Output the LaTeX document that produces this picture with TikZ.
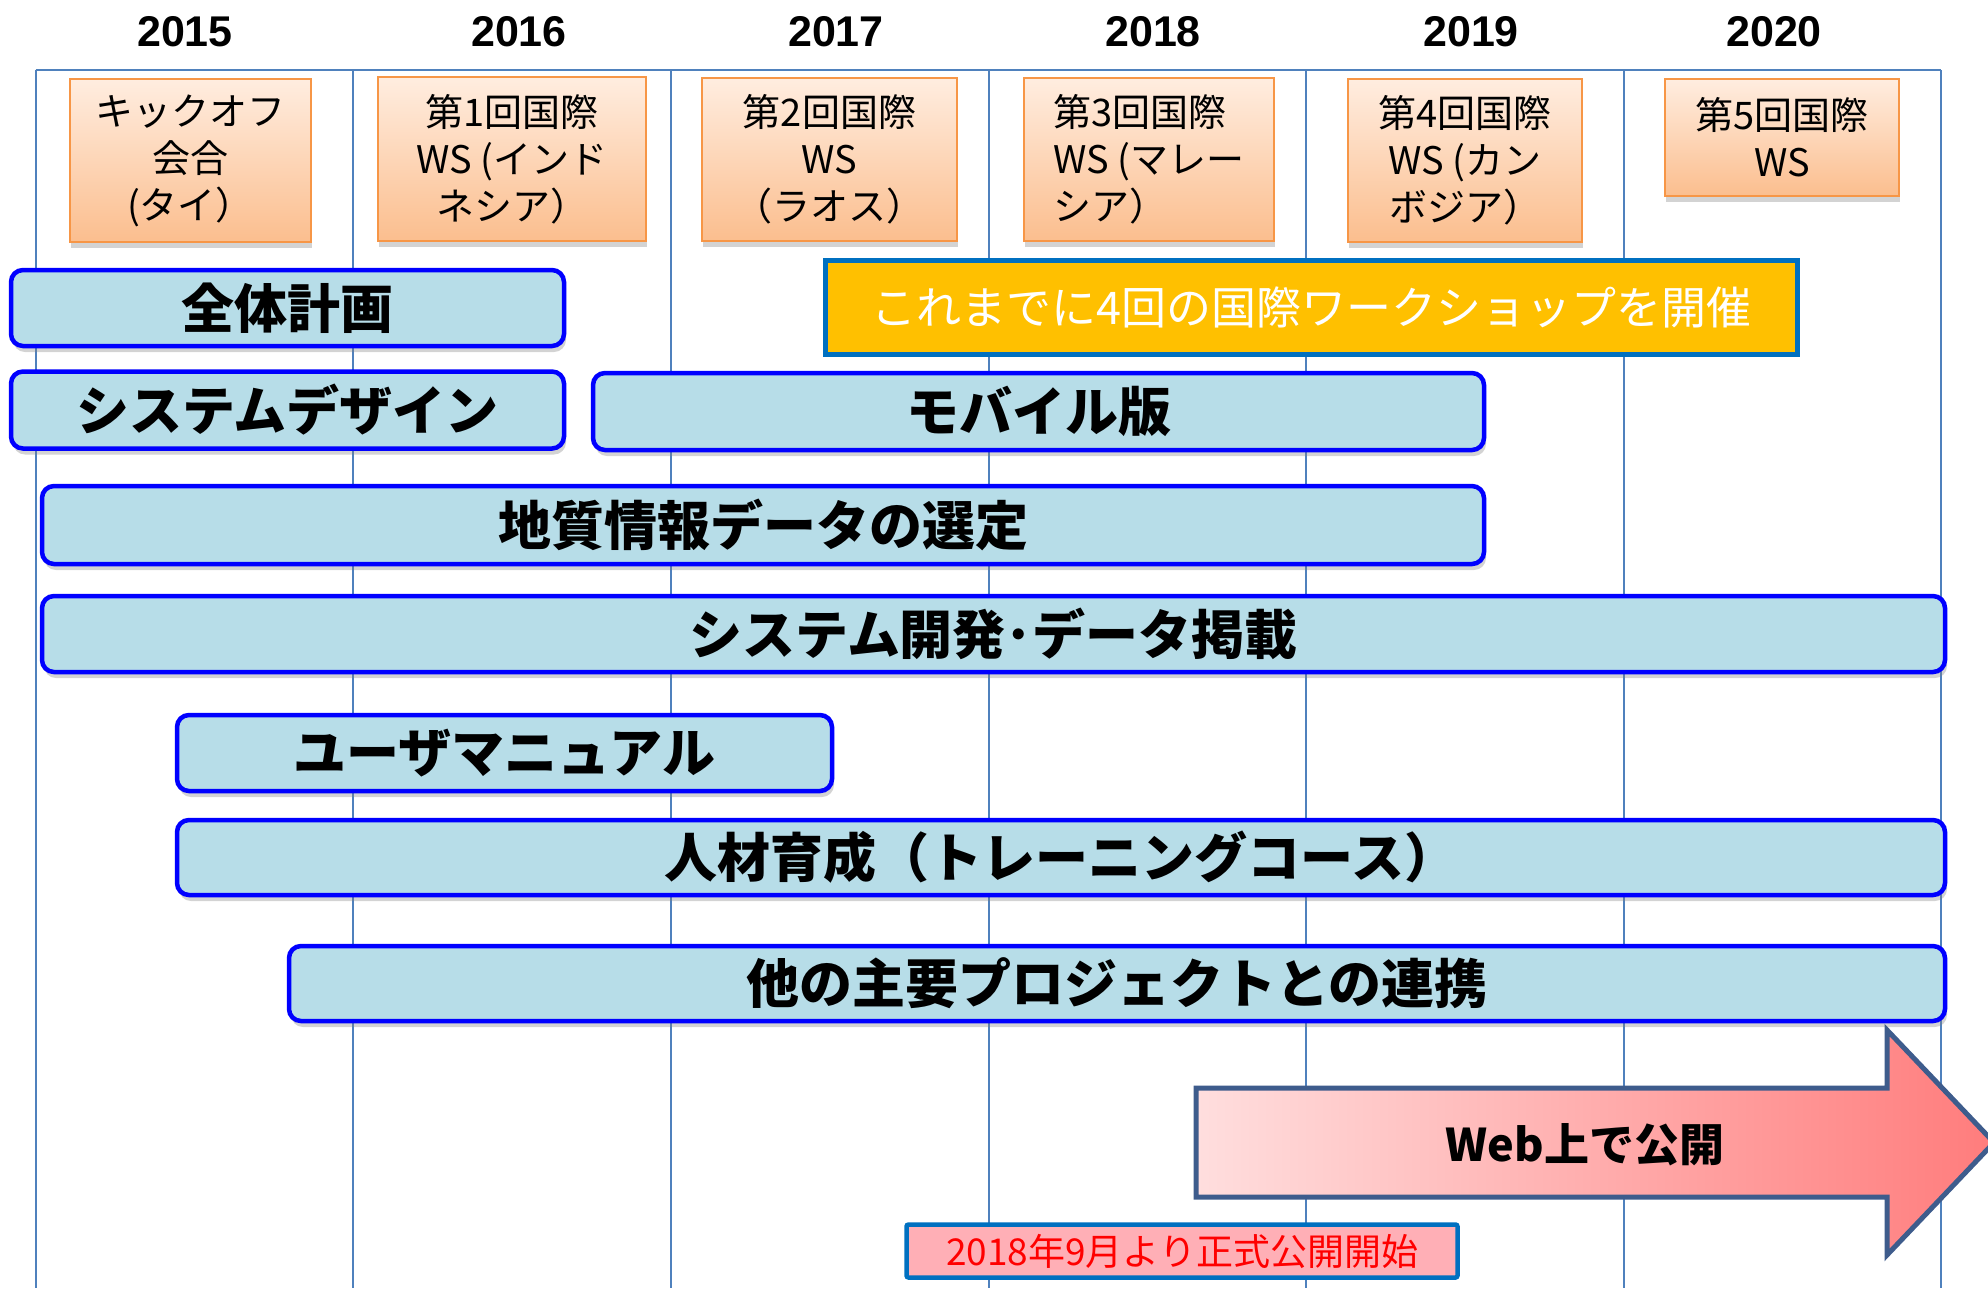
\documentclass[tikz,border=0pt]{standalone}
\usepackage{fontspec}
\setmainfont{Liberation Sans}
\newfontfamily\jp{Noto Sans CJK JP}
\usetikzlibrary{shadows}
\definecolor{gridblue}{HTML}{4F81BD}
\definecolor{barfill}{HTML}{B7DDE8}
\definecolor{wsedge}{HTML}{F79646}
\definecolor{wstop}{RGB}{255,237,224}
\definecolor{wsbot}{RGB}{251,190,142}
\definecolor{gold}{HTML}{FFC000}
\definecolor{frameblue}{HTML}{0070C0}
\definecolor{arrowedge}{RGB}{62,92,140}
\definecolor{pinkleft}{RGB}{255,222,222}
\definecolor{pinkright}{RGB}{255,124,124}
\definecolor{notefill}{RGB}{255,175,182}
\begin{document}
\begin{tikzpicture}[x=1pt,y=-1pt,
    grid/.style={gridblue,line width=2pt},
    year/.style={font=\fontsize{43}{50}\selectfont\bfseries},
    ws/.style={draw=wsedge,line width=2pt,top color=wstop,bottom color=wsbot,
      align=center,inner sep=0pt,font=\jp\fontsize{38}{47}\selectfont,
      drop shadow={opacity=0.35,shadow xshift=1pt,shadow yshift=-6pt}},
    bar/.style={draw=blue,line width=4.5pt,fill=barfill,rounded corners=12pt,
      inner sep=0pt,font=\jp\bfseries\fontsize{53}{60}\selectfont,
      drop shadow={opacity=0.35,shadow xshift=2pt,shadow yshift=-6pt}},
    framed/.style={draw=frameblue,line width=5pt,inner sep=0pt,font=\jp}]
  \useasboundingbox (0,0) rectangle (1988,1288);

  % year grid
  \draw[grid] (35.7,70) -- (1941.3,70);
  \draw[grid] (35.7,70) -- (35.7,1288);
  \draw[grid] (353.3,70) -- (353.3,1288);
  \draw[grid] (670.9,70) -- (670.9,1288);
  \draw[grid] (988.5,70) -- (988.5,1288);
  \draw[grid] (1306.1,70) -- (1306.1,1288);
  \draw[grid] (1623.7,70) -- (1623.7,1288);
  \draw[grid] (1941.3,70) -- (1941.3,1288);

  \draw
    (185,32) node[year] (y2015){2015}
    (519,32) node[year] (y2016){2016}
    (836,32) node[year] (y2017){2017}
    (1153,32) node[year] (y2018){2018}
    (1471,32) node[year] (y2019){2019}
    (1774,32) node[year] (y2020){2020};

  % workshops
  \draw
    (190.5,160.5) node[ws,minimum width=241,minimum height=163] (ws0){キックオフ\\会合\\(タイ）}
    (512,159) node[ws,minimum width=268,minimum height=164] (ws1){第1回国際\\WS (インド\\ネシア）}
    (829.5,159.5) node[ws,minimum width=255,minimum height=163] (ws2){第2回国際\\WS\\（ラオス）}
    (1149,159.5) node[ws,minimum width=250,minimum height=163,align=left] (ws3){第3回国際\\WS (マレー\\シア）}
    (1465,160) node[ws,minimum width=234,minimum height=163] (ws4){第4回国際\\WS (カン\\ボジア）}
    (1782,137.5) node[ws,minimum width=234,minimum height=117] (ws5){第5回国際\\WS};

  \node[framed,fill=gold,text=white,minimum width=972,minimum height=94,
    font=\jp\fontsize{45}{50}\selectfont] (held) at (1311.5,307.5)
    {これまでに4回の国際ワークショップを開催};

  % activities
  \begin{scope}
    \node[bar,minimum width=553,minimum height=76] (plan) at (287.5,308) {全体計画};
    \node[bar,minimum width=553,minimum height=77] (design) at (287.5,410) {システムデザイン};
    \node[bar,minimum width=891,minimum height=77] (mobile) at (1038.5,411.5) {モバイル版};
    \node[bar,minimum width=1442,minimum height=78] (select) at (763,525) {地質情報データの選定};
    \node[bar,minimum width=1903,minimum height=76] (develop) at (993.5,634) {システム開発･データ掲載};
    \node[bar,minimum width=655,minimum height=76] (manual) at (504.5,753) {ユーザマニュアル};
    \node[bar,minimum width=1768,minimum height=75] (training) at (1061,857.5) {人材育成（トレーニングコース）};
    \node[bar,minimum width=1656,minimum height=75] (link) at (1117,983.5) {他の主要プロジェクトとの連携};
  \end{scope}

  % release
  \path[draw=arrowedge,line width=5pt,left color=pinkleft,right color=pinkright,line join=miter]
    (1196,1088) -- (1887,1088) -- (1887,1030) -- (1994,1142.5)
    -- (1887,1255) -- (1887,1197) -- (1196,1197) -- cycle;
  \node[font=\jp\bfseries\fontsize{45}{50}\selectfont] (web) at (1585,1145) {Web上で公開};

  \node[framed,line width=4.5pt,fill=notefill,text=red,rounded corners=2pt,
    minimum width=551,minimum height=53,font=\jp\fontsize{37}{44}\selectfont]
    (note) at (1182,1251) {2018年9月より正式公開開始};
\end{tikzpicture}
\end{document}
